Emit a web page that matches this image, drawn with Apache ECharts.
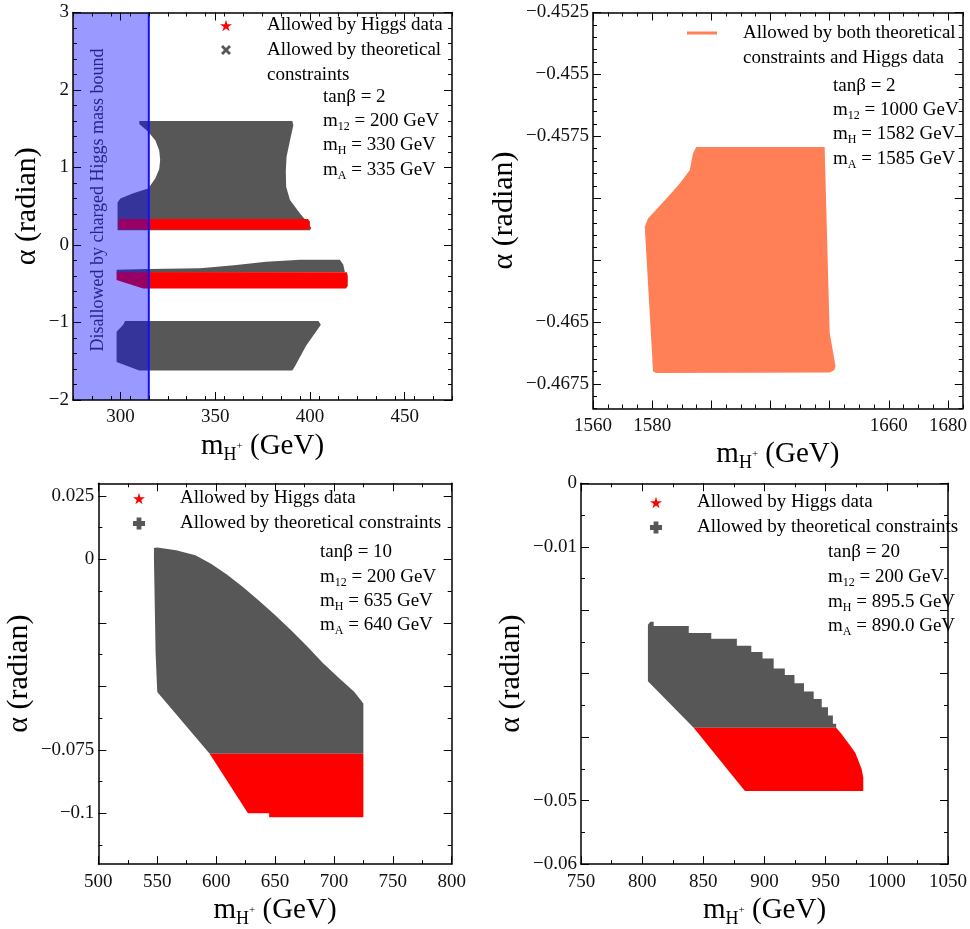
<!DOCTYPE html>
<html>
<head>
<meta charset="utf-8">
<script src="https://cdn.jsdelivr.net/npm/echarts@6/dist/echarts.min.js"></script>
<style>
  html, body { margin: 0; padding: 0; background: #fff; }
  #main { width: 970px; height: 929px; }
</style>
</head>
<body>
<div id="main"></div>
<script>
// ---- panel 1 : tanb = 2, m12 = 200 ----
var p1XRange = [275, 475];
var p1YRange = [-2, 3];
var p1XMajor = [300, 350, 400, 450];
var p1YMajor = [-2, -1, 0, 1, 2, 3];
var p1Bound = [[275, -2], [315, -2], [315, 3], [275, 3]];
var p1BoundLine = [[315, -2], [315, 3]];
var p1GrayUpper = [[310, 1.6], [390.7, 1.6], [391.3, 1.55], [389.5, 1.35], [387.7, 1.14], [387.3, 0.95], [387.5, 0.75],
  [389.5, 0.58], [394.7, 0.41], [399.1, 0.28], [400.8, 0.22], [400, 0.19], [298.5, 0.19], [298.5, 0.55], [300, 0.6],
  [306.8, 0.667], [314.7, 0.73], [318.5, 0.86], [320.5, 0.98], [321, 1.1], [320.5, 1.22], [318.5, 1.35], [314.7, 1.46], [310, 1.56]];
var p1RedUpper = [[299, 0.335], [399, 0.335], [400, 0.3], [400, 0.22], [399, 0.2], [299, 0.2]];
var p1GrayMid = [[298, -0.32], [315, -0.31], [342, -0.30], [360, -0.26], [377, -0.215], [395, -0.19], [415.8, -0.19],
  [417.6, -0.25], [418.5, -0.35], [298, -0.36]];
var p1RedMid = [[298, -0.35], [419.5, -0.35], [420, -0.4], [420, -0.53], [419, -0.56], [312, -0.56], [298, -0.45]];
var p1GrayLow = [[302.5, -0.98], [404.5, -0.98], [405.8, -1.03], [398, -1.3], [392, -1.57], [390.7, -1.62], [310, -1.62],
  [298, -1.51], [298, -1.12], [301.5, -1.03]];
var p1Notes = ['{t|tanβ = 2}', '{t|m}{s|12}{t| = 200 GeV}', '{t|m}{s|H}{t| = 330 GeV}', '{t|m}{s|A}{t| = 335 GeV}'];

// ---- panel 2 : tanb = 2, m12 = 1000 ----
var p2XRange = [1560, 1685];
var p2YRange = [-0.4685, -0.4525];
var p2XMajor = [1560, 1580, 1600, 1620, 1640, 1660, 1680];
var p2XLabels = [1560, 1580, 1660, 1680];
var p2YMajor = [-0.4675, -0.465, -0.4625, -0.46, -0.4575, -0.455, -0.4525];
var p2YLabels = [-0.4675, -0.465, -0.4575, -0.455, -0.4525];
var p2Both = [[1594.9, -0.45793], [1638.3, -0.45793], [1640, -0.46544], [1642, -0.4668], [1641.5, -0.46695], [1640, -0.46705],
  [1581.4, -0.46707], [1580.3, -0.467], [1577.5, -0.46116], [1578.6, -0.46082], [1585.3, -0.45995], [1589.3, -0.45941],
  [1592.7, -0.45887], [1593.8, -0.4582]];
var p2Notes = ['{t|tanβ = 2}', '{t|m}{s|12}{t| = 1000 GeV}', '{t|m}{s|H}{t| = 1582 GeV}', '{t|m}{s|A}{t| = 1585 GeV}'];

// ---- panel 3 : tanb = 10 ----
var p3XRange = [500, 800];
var p3YRange = [-0.12, 0.03];
var p3XMajor = [500, 550, 600, 650, 700, 750, 800];
var p3YMajor = [-0.1, -0.075, -0.05, -0.025, 0, 0.025];
var p3YLabels = [-0.1, -0.075, 0, 0.025];
var p3Gray = [[547.2, 0.0045], [550, 0.0047], [566, 0.0036], [582.4, 0.0017], [596, -0.0018], [609.4, -0.006], [623, -0.0109],
  [636.4, -0.0163], [650, -0.0219], [663.4, -0.0278], [677, -0.0341], [690.4, -0.0407], [704, -0.0466], [717.4, -0.0522],
  [725, -0.0567], [725, -0.0765], [594.5, -0.0765], [550, -0.0522], [548.6, -0.0368], [547.2, 0]];
var p3Red = [[594.5, -0.0765], [725, -0.0765], [725, -0.1015], [645, -0.1015], [645, -0.1], [627, -0.1]];
var p3Notes = ['{t|tanβ = 10}', '{t|m}{s|12}{t| = 200 GeV}', '{t|m}{s|H}{t| = 635 GeV}', '{t|m}{s|A}{t| = 640 GeV}'];

// ---- panel 4 : tanb = 20 ----
var p4XRange = [750, 1050];
var p4YRange = [-0.06, 0];
var p4XMajor = [750, 800, 850, 900, 950, 1000, 1050];
var p4YMajor = [-0.06, -0.05, -0.04, -0.03, -0.02, -0.01, 0];
var p4YLabels = [-0.06, -0.05, -0.01, 0];
var p4Gray = [[806.7, -0.0218], [804.7, -0.0223], [804.7, -0.0312], [842.1, -0.0385], [958.6, -0.0385], [958.6, -0.0379],
  [955.9, -0.0379], [955.9, -0.0366], [951.9, -0.0366], [951.9, -0.0353], [946.8, -0.0353], [946.8, -0.034], [940.2, -0.034],
  [940.2, -0.0328], [932.3, -0.0328], [932.3, -0.0315], [924.5, -0.0315], [924.5, -0.0302], [916.6, -0.0302], [916.6, -0.0292],
  [907.5, -0.0292], [907.5, -0.0276], [898.4, -0.0276], [898.4, -0.0266], [889.2, -0.0266], [889.2, -0.0256], [877.4, -0.0256],
  [877.4, -0.0245], [856.5, -0.0245], [856.5, -0.0236], [838.1, -0.0236], [838.1, -0.0225], [809.4, -0.0225], [809.4, -0.0218]];
var p4Red = [[842.1, -0.0385], [958.6, -0.0385], [962.5, -0.0394], [966.4, -0.0404], [970.3, -0.0414], [974.3, -0.0425],
  [976.8, -0.0437], [979.4, -0.045], [980.7, -0.0463], [980.7, -0.0485], [884, -0.0485]];
var p4Notes = ['{t|tanβ = 20}', '{t|m}{s|12}{t| = 200 GeV}', '{t|m}{s|H}{t| = 895.5 GeV}', '{t|m}{s|A}{t| = 890.0 GeV}'];

var FONT = 'Liberation Serif';
var RED = '#ff0000', GRAY = '#575757', CORAL = '#ff7f56';
var HIGGS = 'Allowed by Higgs data';
var THEO = 'Allowed by theoretical constraints';
var BOTH = 'Allowed by both theoretical constraints and Higgs data';
var STAR = 'path://M50,0 L61,35 L98,35 L68,57 L79,91 L50,70 L21,91 L32,57 L2,35 L39,35 Z';
var CROSS = 'path://M2,0 L5,3 L8,0 L10,2 L7,5 L10,8 L8,10 L5,7 L2,10 L0,8 L3,5 L0,2 Z';
var PLUS = 'path://M3,0 L7,0 L7,3 L10,3 L10,7 L7,7 L7,10 L3,10 L3,7 L0,7 L0,3 L3,3 Z';

function fmt(v) { return String(+v.toFixed(6)).replace('-', '\u2212'); }
function steps(a, b, s) {
  var out = [];
  for (var i = 0; a + i * s <= b + s / 1000; i++) out.push(+(a + i * s).toFixed(6));
  return out;
}
function minors(range, s, majors) {
  return steps(range[0], range[1], s).filter(function (v) {
    return majors.every(function (m) { return Math.abs(m - v) > s / 100; });
  });
}

var xTitle = {
  text: '{m|m}{s|H}{p|+}{m| (GeV)}',
  rich: {
    m: { fontFamily: FONT, fontSize: 29, lineHeight: 36, color: '#000' },
    s: { fontFamily: FONT, fontSize: 18, lineHeight: 23, verticalAlign: 'bottom', color: '#000' },
    p: { fontFamily: FONT, fontSize: 11, lineHeight: 11, verticalAlign: 'middle', color: '#000' }
  }
};

function axes(g, dim, range, major, labels, minor, gap) {
  var sides = dim === 'x' ? ['bottom', 'top'] : ['left', 'right'];
  var out = [];
  sides.forEach(function (side, k) {
    var a = {
      type: 'value', gridIndex: g, position: side, min: range[0], max: range[1], z: 10,
      axisLine: { show: true, onZero: false, lineStyle: { color: '#000', width: 1.5 } },
      axisTick: { show: true, inside: true, length: 8, customValues: major, lineStyle: { color: '#000', width: 1 } },
      axisLabel: { show: false },
      splitLine: { show: false }
    };
    if (k === 0) {
      a.axisLabel = {
        show: true, customValues: labels, formatter: fmt, fontFamily: FONT, fontSize: 19, color: '#111',
        margin: dim === 'x' ? 8 : 4
      };
      a.nameLocation = 'middle';
      a.nameGap = gap;
      if (dim === 'x') {
        a.name = xTitle.text;
        a.nameTextStyle = { rich: xTitle.rich, lineHeight: 36 };
      } else {
        a.name = 'α (radian)';
        a.nameRotate = 90;
        a.nameTextStyle = { fontFamily: FONT, fontSize: 30, lineHeight: 36, color: '#000' };
      }
    }
    out.push(a);
    out.push({
      type: 'value', gridIndex: g, position: side, min: range[0], max: range[1], z: 10,
      axisLine: { show: false, onZero: false },
      axisTick: { show: true, inside: true, length: 4, customValues: minor, lineStyle: { color: '#000', width: 1 } },
      axisLabel: { show: false },
      splitLine: { show: false }
    });
  });
  return out;
}

function poly(name, pts, color, g, z) {
  return {
    type: 'custom', name: name, coordinateSystem: 'cartesian2d', xAxisIndex: 4 * g, yAxisIndex: 4 * g,
    z: z, silent: true, clip: true, data: pts,
    itemStyle: { color: color },
    renderItem: function (params, api) {
      if (params.dataIndex !== 0) return null;
      return {
        type: 'polygon',
        shape: { points: pts.map(function (p) { return api.coord(p); }) },
        style: { fill: color }
      };
    }
  };
}

function line(pts, color, g, z) {
  return {
    type: 'custom', coordinateSystem: 'cartesian2d', xAxisIndex: 4 * g, yAxisIndex: 4 * g,
    z: z, silent: true, data: pts,
    renderItem: function (params, api) {
      if (params.dataIndex !== 0) return null;
      return {
        type: 'polyline',
        shape: { points: pts.map(function (p) { return api.coord(p); }) },
        style: { stroke: color, lineWidth: 2, fill: null }
      };
    }
  };
}

var noteRich = {
  t: { fontFamily: FONT, fontSize: 19, lineHeight: 24, color: '#000' },
  s: { fontFamily: FONT, fontSize: 12, lineHeight: 12, verticalAlign: 'bottom', color: '#000' }
};
function notes(list, x, ys) {
  return list.map(function (txt, i) {
    return { type: 'text', x: x, y: ys[i], style: { text: txt, rich: noteRich, verticalAlign: 'middle', align: 'left' } };
  });
}

function legendText(padLeft) {
  return { fontFamily: FONT, fontSize: 19, lineHeight: 25, color: '#000', padding: [0, 0, 0, padLeft] };
}

var xAxis = [].concat(
  axes(0, 'x', p1XRange, p1XMajor, p1XMajor, minors(p1XRange, 10, p1XMajor), 25),
  axes(1, 'x', p2XRange, p2XMajor, p2XLabels, minors(p2XRange, 5, p2XMajor), 17),
  axes(2, 'x', p3XRange, p3XMajor, p3XMajor, minors(p3XRange, 25, p3XMajor), 27),
  axes(3, 'x', p4XRange, p4XMajor, p4XMajor, minors(p4XRange, 25, p4XMajor), 25)
);
var yAxis = [].concat(
  axes(0, 'y', p1YRange, p1YMajor, p1YMajor, minors(p1YRange, 0.2, p1YMajor), 28),
  axes(1, 'y', p2YRange, p2YMajor, p2YLabels, minors(p2YRange, 0.0005, p2YMajor), 40),
  axes(2, 'y', p3YRange, p3YMajor, p3YLabels, minors([-0.1125, 0.03], 0.0125, p3YMajor), 38),
  axes(3, 'y', p4YRange, p4YMajor, p4YLabels, minors(p4YRange, 0.005, p4YMajor), 28)
);

var myChart = echarts.init(document.getElementById('main'));
myChart.setOption({
  animation: false,
  backgroundColor: '#fff',
  grid: [
    { left: 73, top: 12.5, width: 379, height: 387.5 },
    { left: 593, top: 12.5, width: 370, height: 396 },
    { left: 81.7, top: 483.3, width: 370, height: 389 },
    { left: 581, top: 483.3, width: 382.3, height: 391 }
  ],
  xAxis: xAxis,
  yAxis: yAxis,
  legend: [
    { left: 220, top: 13, orient: 'vertical', padding: 0, itemGap: 0, itemWidth: 12, itemHeight: 12, selectedMode: false,
      data: [{ name: HIGGS, icon: STAR, itemStyle: { color: RED } }], textStyle: legendText(30) },
    { left: 221, top: 12.5, orient: 'vertical', padding: 0, itemGap: 0, itemWidth: 10, itemHeight: 10, selectedMode: false,
      data: [{ name: THEO, icon: CROSS, itemStyle: { color: GRAY } }],
      formatter: function () { return ' \nAllowed by theoretical\nconstraints'; },
      textStyle: legendText(31) },
    { left: 687, top: -4.5, orient: 'vertical', padding: 0, itemGap: 0, itemWidth: 30, itemHeight: 3, selectedMode: false,
      data: [{ name: BOTH, icon: 'rect', itemStyle: { color: CORAL } }],
      formatter: function () { return ' \nAllowed by both theoretical\nconstraints and Higgs data'; },
      textStyle: legendText(21) },
    { left: 133, top: 486, orient: 'vertical', padding: 0, itemGap: 0, itemWidth: 12, itemHeight: 12, selectedMode: false,
      data: [{ name: HIGGS, icon: STAR, itemStyle: { color: RED } }, { name: THEO, icon: PLUS, itemStyle: { color: GRAY } }],
      textStyle: legendText(30) },
    { left: 650, top: 490, orient: 'vertical', padding: 0, itemGap: 0, itemWidth: 12, itemHeight: 12, selectedMode: false,
      data: [{ name: HIGGS, icon: STAR, itemStyle: { color: RED } }, { name: THEO, icon: PLUS, itemStyle: { color: GRAY } }],
      textStyle: legendText(30) }
  ],
  graphic: [].concat(
    notes(p1Notes, 323, [97, 121, 145, 170]),
    notes(p2Notes, 833, [86, 110, 134, 159]),
    notes(p3Notes, 320, [552, 577, 601, 625]),
    notes(p4Notes, 828, [552, 577, 602, 626]),
    [{
      type: 'text', x: 98, y: 200, rotation: Math.PI / 2, z: 20,
      style: { text: 'Disallowed by charged Higgs mass bound', fontFamily: FONT, fontSize: 18, fill: '#24248f',
        align: 'center', verticalAlign: 'middle' }
    }]
  ),
  series: [
    poly(THEO, p1GrayUpper, GRAY, 0, 2),
    poly(THEO, p1GrayMid, GRAY, 0, 2),
    poly(THEO, p1GrayLow, GRAY, 0, 2),
    poly(HIGGS, p1RedUpper, RED, 0, 3),
    poly(HIGGS, p1RedMid, RED, 0, 3),
    poly('bound', p1Bound, 'rgba(0,0,255,0.4)', 0, 4),
    line(p1BoundLine, '#1010ff', 0, 5),
    poly(BOTH, p2Both, CORAL, 1, 2),
    poly(THEO, p3Gray, GRAY, 2, 2),
    poly(HIGGS, p3Red, RED, 2, 3),
    poly(THEO, p4Gray, GRAY, 3, 2),
    poly(HIGGS, p4Red, RED, 3, 3)
  ]
});
</script>
</body>
</html>
